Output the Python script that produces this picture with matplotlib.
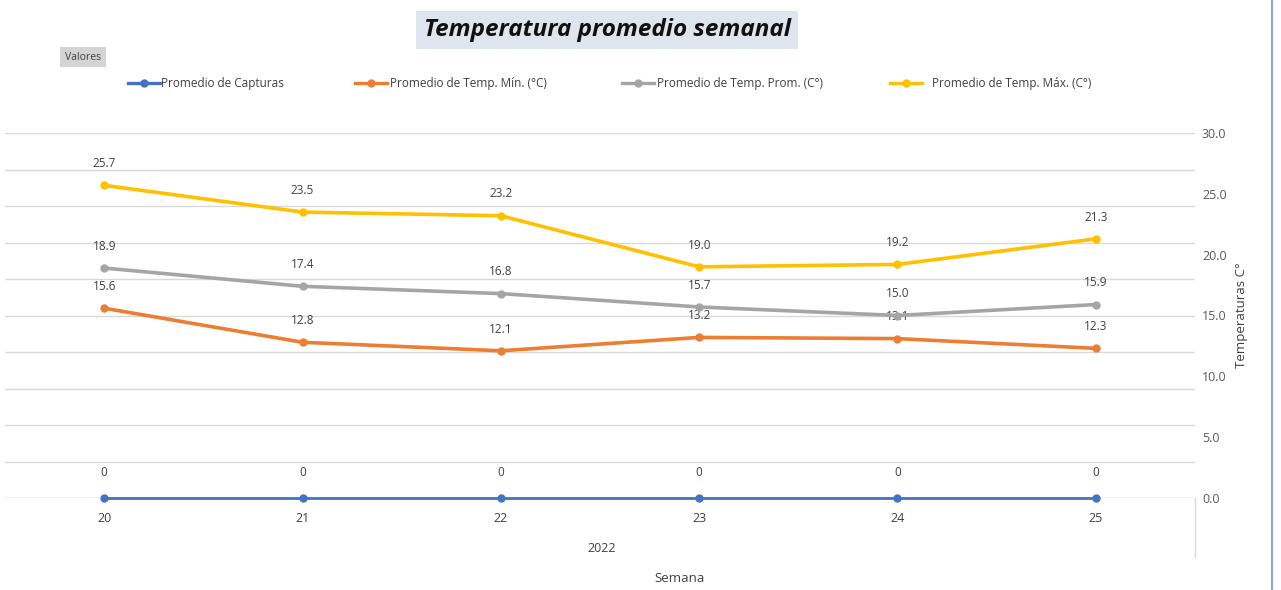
import matplotlib
matplotlib.use("Agg")
import matplotlib.pyplot as plt
from matplotlib.lines import Line2D

weeks = ["20", "21", "22", "23", "24", "25"]
capturas = [0, 0, 0, 0, 0, 0]
temp_min = [15.6, 12.8, 12.1, 13.2, 13.1, 12.3]
temp_prom = [18.9, 17.4, 16.8, 15.7, 15.0, 15.9]
temp_max = [25.7, 23.5, 23.2, 19.0, 19.2, 21.3]
right_ticks = [0, 5, 10, 15, 20, 25, 30]
series_names = ["Promedio de Capturas", "Promedio de Temp. Mín. (°C)",
                "Promedio de Temp. Prom. (C°)", "Promedio de Temp. Máx. (C°)"]
colors = ["#4472C4", "#ED7D31", "#A5A5A5", "#FFC000"]

plt.rcParams['font.family'] = ['Open Sans', 'DejaVu Sans']
W, H = 1281, 590
fig = plt.figure(figsize=(W / 100, H / 100), dpi=100)
fig.patch.set_facecolor("white")

def fx(px):
    return px / W

def fy(py):
    return 1 - py / H

ax = fig.add_axes([fx(5), fy(498), fx(1195) - fx(5), fy(133) - fy(498)])
ax2 = ax.twinx()
x = list(range(len(weeks)))

# primary axis: capturas (hidden labels), gridlines
ax.set_xlim(-0.5, len(weeks) - 0.5)
ax.set_ylim(0, 1)
ax.set_yticks([i / 10 for i in range(11)])
ax.set_yticklabels([])
ax.tick_params(axis='y', length=0)
ax.grid(axis='y', color="#d9d9d9", lw=1)
ax.set_axisbelow(True)
for s in ax.spines.values():
    s.set_visible(False)
for s in ax2.spines.values():
    s.set_visible(False)
ax.axhline(0, color="#d9d9d9", lw=1, zorder=1)

ax.plot(x, capturas, color=colors[0], lw=2.0, marker='o', ms=5, zorder=5, clip_on=False)
for xi, v in zip(x, capturas):
    ax.annotate(f"{v}", (xi, v), xytext=(0, 14), textcoords='offset points',
                ha='center', va='bottom', fontsize=8.5, color="#404040")

ax.set_xticks(x)
ax.set_xticklabels(weeks, fontsize=9, color="#404040")
ax.tick_params(axis='x', length=0, pad=10)

# secondary axis: temperatures
ax2.set_ylim(0, 30)
ax2.set_yticks(right_ticks)
ax2.set_yticklabels([f"{t:.1f}" for t in right_ticks], fontsize=9, color="#595959")
ax2.tick_params(axis='y', length=0, pad=5)
ax2.set_ylabel("Temperaturas C°", fontsize=9.5, color="#404040", labelpad=6)

for vals, c in zip([temp_min, temp_prom, temp_max], colors[1:]):
    ax2.plot(x, vals, color=c, lw=2.6, marker='o', ms=5, zorder=5)
    for xi, v in zip(x, vals):
        ax2.annotate(f"{v:.1f}", (xi, v), xytext=(0, 11), textcoords='offset points',
                     ha='center', va='bottom', fontsize=8.5, color="#404040")

# multi-level category divider
fig.add_artist(Line2D([fx(1195), fx(1195)], [fy(498), fy(557)], color="#d9d9d9", lw=1))
fig.text(fx(602), fy(548), "2022", ha='center', va='center', fontsize=9, color="#404040")
fig.text(fx(680), fy(578), "Semana", ha='center', va='center', fontsize=9.5, color="#404040")

# title
fig.text(fx(607), fy(30), "Temperatura promedio semanal", ha='center', va='center',
         fontsize=17.5, fontweight='bold', fontstyle='italic', color="#111111",
         bbox=dict(boxstyle='square,pad=0.3', fc="#dfe5ee", ec='none'))

# "Valores" button
fig.text(fx(83), fy(57), "Valores", ha='center', va='center', fontsize=7.5, color="#404040",
         bbox=dict(boxstyle='square,pad=0.45', fc="#d4d4d4", ec='none'))

# legend
legend_pos = [(128, 161), (355, 390), (622, 657), (890, 932)]
for (x0, xt), name, c in zip(legend_pos, series_names, colors):
    fig.add_artist(Line2D([fx(x0), fx(x0 + 32)], [fy(83), fy(83)], color=c, lw=2.4))
    fig.add_artist(Line2D([fx(x0 + 16)], [fy(83)], color=c, marker='o', ms=5))
    fig.text(fx(xt), fy(83), name, ha='left', va='center', fontsize=8.5, color="#404040")

# chart frame right border
fig.add_artist(Line2D([fx(1272), fx(1272)], [0, 1], color="#8faad0", lw=1.5))

fig.savefig("out.png", dpi=100)
